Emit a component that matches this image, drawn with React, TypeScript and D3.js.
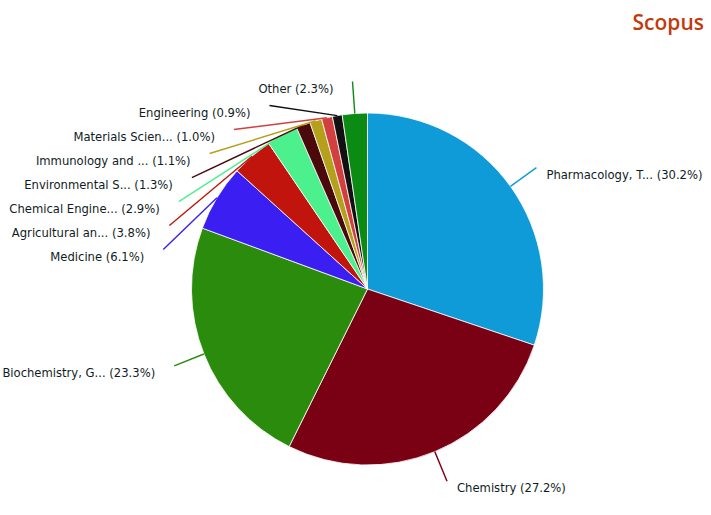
import * as d3 from "d3";

const categories = [
  "Pharmacology, T...",
  "Chemistry",
  "Biochemistry, G...",
  "Medicine",
  "Agricultural an...",
  "Chemical Engine...",
  "Environmental S...",
  "Immunology and ...",
  "Materials Scien...",
  "Engineering",
  "Other",
];
const shares = [30.2, 27.2, 23.3, 6.1, 3.8, 2.9, 1.3, 1.1, 1.0, 0.9, 2.3];
const colors = [
  "#0f9bd8",
  "#7a0013",
  "#2a8b0d",
  "#3b1ff2",
  "#c0140c",
  "#4cf08c",
  "#4a0a0c",
  "#b5a01c",
  "#d23f3f",
  "#121010",
  "#0b8a14",
];

const W = 711;
const H = 515;
const cx = 367.5;
const cy = 289;
const radius = 176;
const labelR = 208;
const spacing = 24;

type Slice = { name: string; value: number; color: string };

export default function App() {
  const data: Slice[] = categories.map((name, i) => ({ name, value: shares[i], color: colors[i] }));

  const pie = d3.pie<Slice>().sort(null).value(d => d.value);
  const arcs = pie(data);
  const arc = d3.arc<d3.PieArcDatum<Slice>>().innerRadius(0).outerRadius(radius);

  // label anchor points: start from angle, then push left-side labels apart going counterclockwise
  const mid = (a: d3.PieArcDatum<Slice>) => (a.startAngle + a.endAngle) / 2;
  const anchors = arcs.map(a => {
    const m = mid(a);
    return { x: labelR * Math.sin(m), y: -labelR * Math.cos(m), m, moved: false };
  });
  let prevY: number | null = null;
  for (let i = arcs.length - 1; i >= 0; i--) {
    const a = anchors[i];
    if (Math.sin(a.m) >= 0) break;
    if (prevY !== null && a.y < prevY + spacing) {
      a.y = prevY + spacing;
      a.x = -Math.sqrt(Math.max(0, labelR * labelR - a.y * a.y));
      a.moved = true;
    }
    prevY = a.y;
  }

  return (
    <svg width={W} height={H} style={{ position: "fixed", left: 0, top: 0, background: "#fff" }}>
      <text
        x={704}
        y={30}
        textAnchor="end"
        fontFamily="Open Sans, sans-serif"
        fontWeight={600}
        fontSize={21}
        fill="#c23a0c"
      >
        Scopus
      </text>
      <g transform={`translate(${cx},${cy})`}>
        {arcs.map((a, i) => (
          <path key={i} d={arc(a) || ""} fill={a.data.color} stroke="#fff" strokeWidth={0.8} />
        ))}
        {arcs.map((a, i) => {
          const m = mid(a);
          const sx = radius * Math.sin(m);
          const sy = -radius * Math.cos(m);
          const e = anchors[i];
          const right = Math.sin(m) >= 0;
          const p = d3.path();
          p.moveTo(sx, sy);
          if (e.moved) {
            p.lineTo(e.x, e.y);
          } else {
            const qx = (radius + 16) * Math.sin(m);
            const qy = -(radius + 16) * Math.cos(m);
            p.quadraticCurveTo(qx, qy, e.x, e.y);
          }
          return (
            <g key={"l" + i}>
              <path d={p.toString()} fill="none" stroke={a.data.color} strokeWidth={1.4} />
              <text
                x={right ? e.x + 10 : e.x - 19}
                y={e.y + 7}
                dy="0.35em"
                textAnchor={right ? "start" : "end"}
                fontFamily="DejaVu Sans, sans-serif"
                fontSize={11.6}
                fill="#0f1c24"
              >
                {`${a.data.name} (${a.data.value.toFixed(1)}%)`}
              </text>
            </g>
          );
        })}
      </g>
    </svg>
  );
}
